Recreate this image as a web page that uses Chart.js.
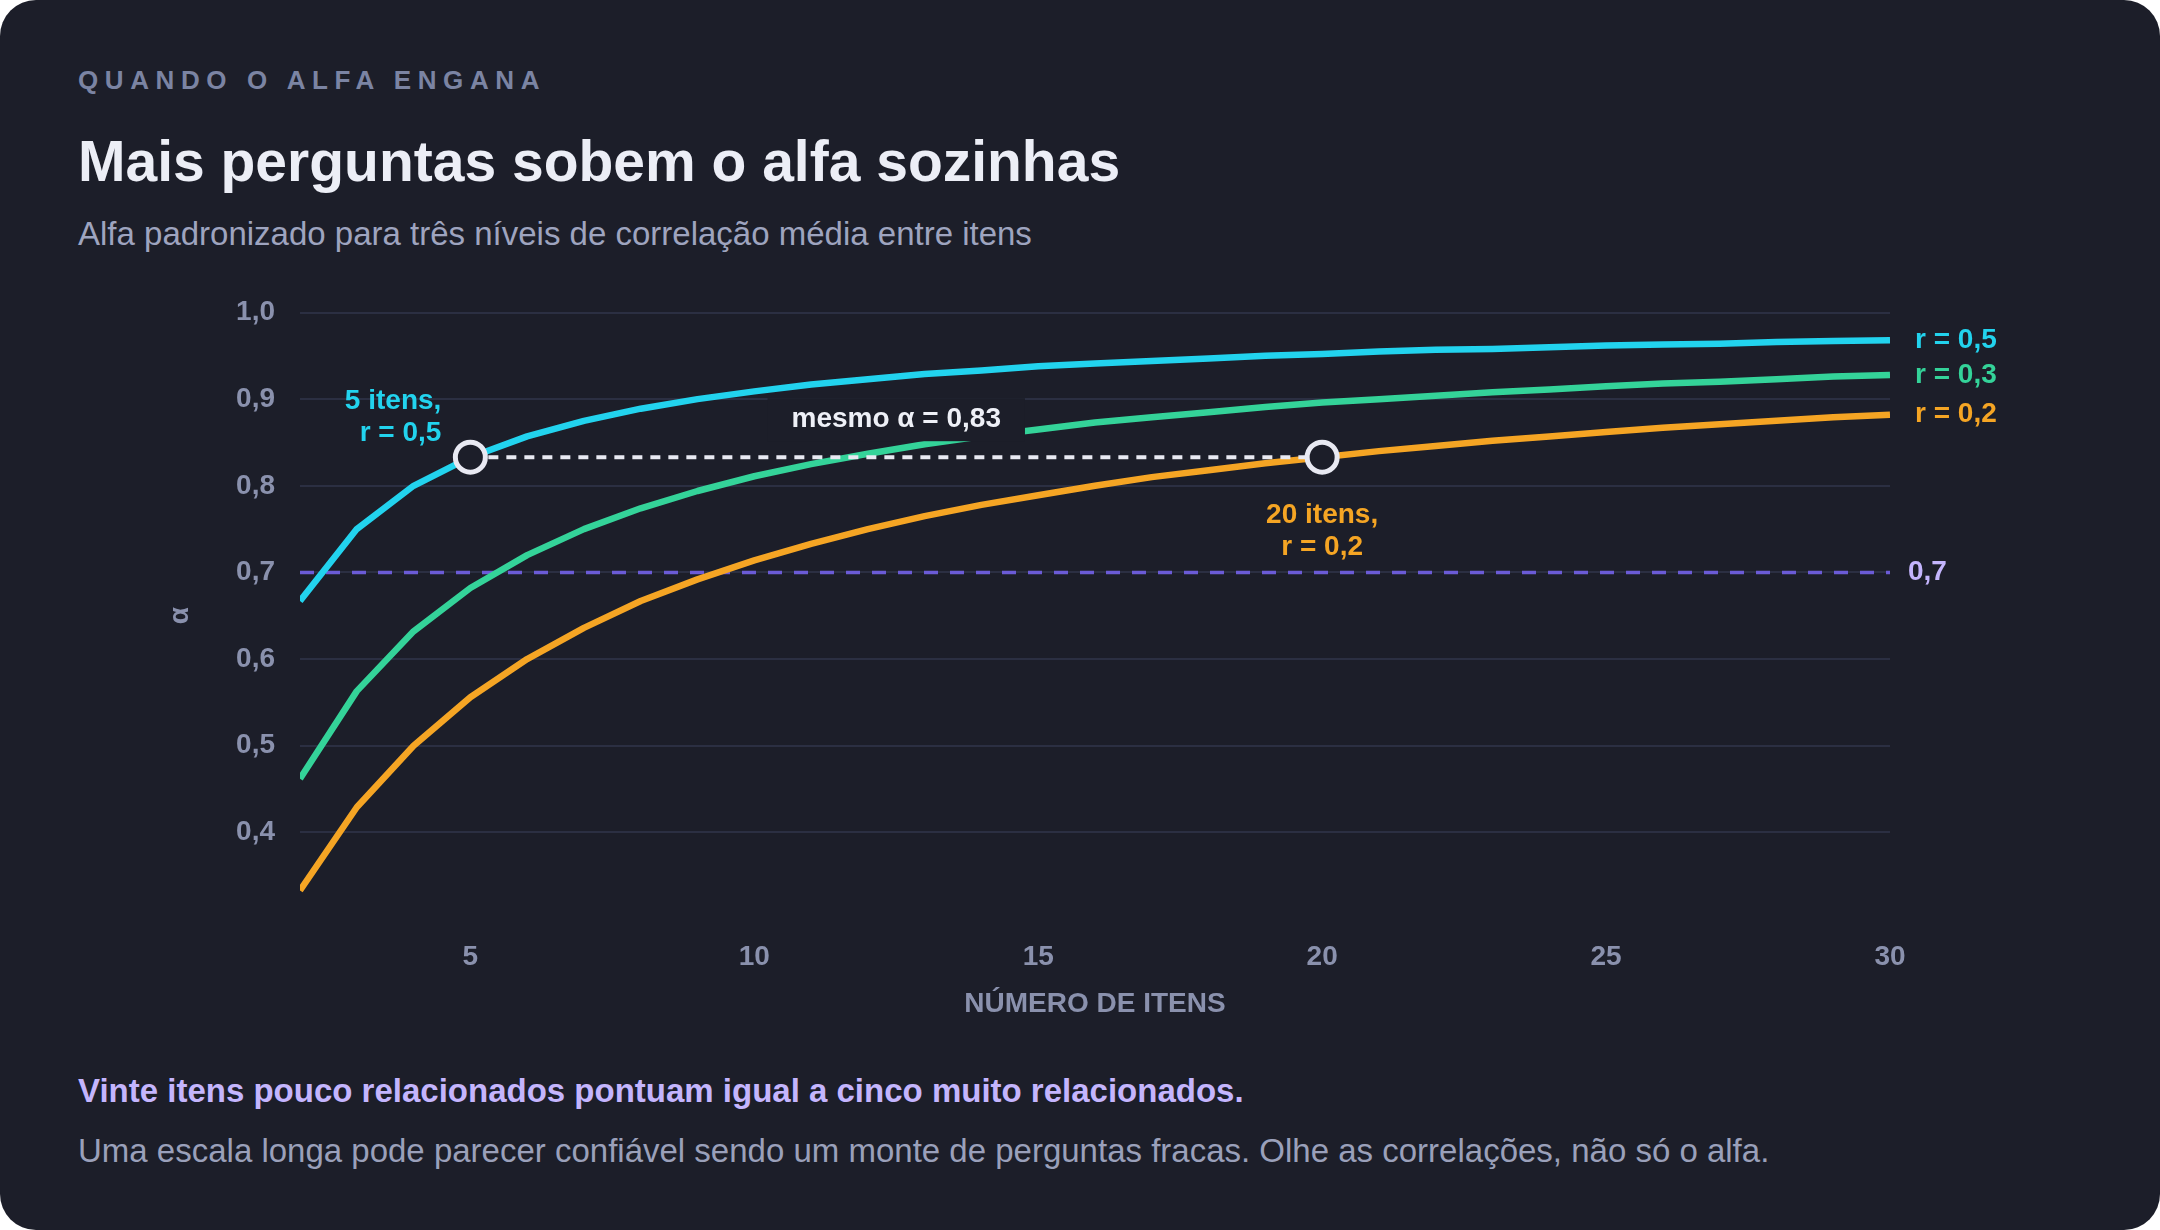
<!DOCTYPE html>
<html lang="pt-BR">
<head>
<meta charset="utf-8">
<title>Mais perguntas sobem o alfa sozinhas</title>
<script src="https://cdn.jsdelivr.net/npm/chart.js@4.4.1/dist/chart.umd.min.js"></script>
<style>
  html, body { margin: 0; padding: 0; background: #ffffff; }
  body { width: 2160px; height: 1230px; overflow: hidden; font-family: "Liberation Sans", Arial, sans-serif; }
  .card { position: absolute; left: 0; top: 0; width: 2160px; height: 1230px; background: #1c1e29; border-radius: 36px; overflow: hidden; }
  .t { position: absolute; left: 78px; white-space: nowrap; }
  .eyebrow { top: 60px; height: 40px; line-height: 40px; font-size: 26px; font-weight: 700; letter-spacing: 6.6px; color: #7b84a3; }
  .title { top: 126px; height: 70px; line-height: 70px; font-size: 57px; font-weight: 700; color: #eceef6; }
  .subtitle { top: 212px; height: 44px; line-height: 44px; font-size: 33px; font-weight: 400; color: #9ea4bf; }
  .foot1 { top: 1069px; height: 44px; line-height: 44px; font-size: 33px; font-weight: 700; color: #c4b5fd; }
  .foot2 { top: 1129px; height: 44px; line-height: 44px; font-size: 33px; font-weight: 400; color: #9aa0ba; }
  .chartbox { position: absolute; left: 0; top: 280px; width: 2160px; height: 760px; }
</style>
</head>
<body>
<div class="card">
  <div class="t eyebrow">QUANDO O ALFA ENGANA</div>
  <div class="t title">Mais perguntas sobem o alfa sozinhas</div>
  <div class="t subtitle">Alfa padronizado para três níveis de correlação média entre itens</div>
  <div class="chartbox"><canvas id="c"></canvas></div>
  <div class="t foot1">Vinte itens pouco relacionados pontuam igual a cinco muito relacionados.</div>
  <div class="t foot2">Uma escala longa pode parecer confiável sendo um monte de perguntas fracas. Olhe as correlações, não só o alfa.</div>
</div>
<script>
// ---- data ----
const itemCounts = [2,3,4,5,6,7,8,9,10,11,12,13,14,15,16,17,18,19,20,21,22,23,24,25,26,27,28,29,30];
const alphaR05 = [0.667,0.750,0.800,0.833,0.857,0.875,0.889,0.900,0.909,0.917,0.923,0.929,0.933,0.938,0.941,0.944,0.947,0.950,0.952,0.955,0.957,0.958,0.960,0.962,0.963,0.964,0.966,0.967,0.968];
const alphaR03 = [0.462,0.563,0.632,0.682,0.720,0.750,0.774,0.794,0.811,0.825,0.837,0.848,0.857,0.865,0.873,0.879,0.885,0.891,0.896,0.900,0.904,0.908,0.911,0.915,0.918,0.920,0.923,0.926,0.928];
const alphaR02 = [0.333,0.429,0.500,0.556,0.600,0.636,0.667,0.692,0.714,0.733,0.750,0.765,0.778,0.789,0.800,0.810,0.818,0.826,0.833,0.840,0.846,0.852,0.857,0.862,0.867,0.871,0.875,0.879,0.882];
const seriesNames = ['r = 0,5', 'r = 0,3', 'r = 0,2'];
const seriesColors = ['#22d3ee', '#34d399', '#f5a524'];
const xTicks = [5, 10, 15, 20, 25, 30];
const yTicks = [0.4, 0.5, 0.6, 0.7, 0.8, 0.9, 1.0];
const refAlpha = 0.7;
const refLabel = '0,7';
const sameAlpha = 0.833;
const sameLabel = 'mesmo α = 0,83';
const markA = [5, 0.833];
const markALabel = ['5 itens,', 'r = 0,5'];
const markB = [20, 0.833];
const markBLabel = ['20 itens,', 'r = 0,2'];
const xTitle = 'NÚMERO DE ITENS';
const yTitle = 'α';

// ---- build ----
const BG = '#1c1e29';
const FONT = '"Liberation Sans", Arial, sans-serif';
const PAGE_Y_TOP = 312.5;    // page y of alpha = 1.0
const PAGE_Y_BOTTOM = 919;   // page y of alpha = 0.3
let xAxisHeight = 121;

const allSeries = [alphaR05, alphaR03, alphaR02];
const datasets = allSeries.map((vals, i) => ({
  label: seriesNames[i],
  data: itemCounts.map((k, j) => ({ x: k, y: vals[j] })),
  borderColor: seriesColors[i],
  borderWidth: 6.5,
  pointRadius: 0,
  pointHoverRadius: 0,
  tension: 0,
  borderJoinStyle: 'round',
  fill: false
}));

const fmt = v => v.toFixed(1).replace('.', ',');

const annot = {
  id: 'annot',
  beforeDatasetsDraw(chart) {
    const { ctx, chartArea: a, scales: { x, y } } = chart;
    ctx.save();
    const yr = y.getPixelForValue(refAlpha);
    ctx.strokeStyle = '#6b5bd6';
    ctx.lineWidth = 3.5;
    ctx.setLineDash([14, 12]);
    ctx.beginPath(); ctx.moveTo(a.left, yr); ctx.lineTo(a.right, yr); ctx.stroke();
    ctx.restore();
  },
  afterDatasetsDraw(chart) {
    const { ctx, chartArea: a, scales: { x, y } } = chart;
    ctx.save();
    const ys = y.getPixelForValue(sameAlpha);
    const xa = x.getPixelForValue(markA[0]);
    const xb = x.getPixelForValue(markB[0]);
    ctx.strokeStyle = '#e8e9f2';
    ctx.lineWidth = 4;
    ctx.setLineDash([10, 8]);
    ctx.beginPath(); ctx.moveTo(xa, ys); ctx.lineTo(xb, ys); ctx.stroke();
    ctx.setLineDash([]);
    ctx.font = '700 28px ' + FONT;
    const xm = x.getPixelForValue((markA[0] + markB[0]) / 2);
    const tw = ctx.measureText(sameLabel).width;
    const ly = ys - 38;
    ctx.fillStyle = BG;
    ctx.fillRect(xm - tw / 2 - 24, ly - 21, tw + 48, 43);
    ctx.fillStyle = '#eef0f7';
    ctx.textAlign = 'center'; ctx.textBaseline = 'middle';
    ctx.fillText(sameLabel, xm, ly);
    [markA, markB].forEach(m => {
      const px = x.getPixelForValue(m[0]), py = y.getPixelForValue(m[1]);
      ctx.beginPath(); ctx.arc(px, py, 15, 0, Math.PI * 2);
      ctx.fillStyle = BG; ctx.fill();
      ctx.lineWidth = 5; ctx.strokeStyle = '#e8e9f2'; ctx.stroke();
    });
    const pa = [x.getPixelForValue(markA[0]), y.getPixelForValue(markA[1])];
    ctx.fillStyle = seriesColors[0];
    ctx.textAlign = 'right';
    ctx.fillText(markALabel[0], pa[0] - 29, pa[1] - 56);
    ctx.fillText(markALabel[1], pa[0] - 29, pa[1] - 24);
    const pb = [x.getPixelForValue(markB[0]), y.getPixelForValue(markB[1])];
    ctx.fillStyle = seriesColors[2];
    ctx.textAlign = 'center';
    ctx.fillText(markBLabel[0], pb[0], pb[1] + 58);
    ctx.fillText(markBLabel[1], pb[0], pb[1] + 90);
    ctx.textAlign = 'left';
    allSeries.forEach((vals, i) => {
      ctx.fillStyle = seriesColors[i];
      ctx.fillText(seriesNames[i], a.right + 25, y.getPixelForValue(vals[vals.length - 1]));
    });
    ctx.fillStyle = '#c4b5fd';
    ctx.fillText(refLabel, a.right + 18, y.getPixelForValue(refAlpha));
    ctx.restore();
  }
};

const chart = new Chart(document.getElementById('c'), {
  type: 'line',
  data: { datasets },
  plugins: [annot],
  options: {
    responsive: true,
    maintainAspectRatio: false,
    animation: false,
    events: [],
    layout: { padding: { left: 150, right: 270, top: 32.5, bottom: 0 } },
    plugins: { legend: { display: false }, tooltip: { enabled: false } },
    scales: {
      x: {
        type: 'linear', min: 2, max: 30,
        afterBuildTicks: s => { s.ticks = xTicks.map(v => ({ value: v })); },
        afterFit: s => { s.height = xAxisHeight; },
        grid: { display: false, drawTicks: false },
        border: { display: false },
        ticks: { padding: 21.5, color: '#8a91ad', font: { family: FONT, size: 28, weight: '700' }, callback: v => String(v) },
        title: { display: true, text: xTitle, color: '#8a91ad', font: { family: FONT, size: 28, weight: '700' }, padding: { top: 0, bottom: 18.5 } }
      },
      y: {
        type: 'linear', min: 0.3, max: 1.0,
        afterBuildTicks: s => { s.ticks = yTicks.map(v => ({ value: v })); },
        afterFit: s => { s.width = 150; s.paddingTop = 0; s.paddingBottom = 0; },
        grid: { color: '#2b2f42', lineWidth: 2, drawTicks: false },
        border: { display: false },
        ticks: { padding: 25, color: '#8a91ad', font: { family: FONT, size: 28, weight: '700' }, callback: v => fmt(v) },
        title: { display: true, text: yTitle, color: '#8a91ad', font: { family: FONT, size: 28, weight: '700' }, padding: { top: 13, bottom: 0 } }
      }
    }
  }
});

// settle the plot area at the reference position
for (let i = 0; i < 5; i++) {
  const rect = chart.canvas.getBoundingClientRect();
  const sc = rect.height / chart.height;
  const y = chart.scales.y;
  const p1 = rect.top + y.getPixelForValue(1.0) * sc;
  const p0 = rect.top + y.getPixelForValue(0.3) * sc;
  const dt = p1 - PAGE_Y_TOP, db = p0 - PAGE_Y_BOTTOM;
  if (Math.abs(dt) < 0.25 && Math.abs(db) < 0.25) break;
  chart.options.layout.padding.top -= dt / sc;
  xAxisHeight += db / sc;
  chart.update();
}
</script>
</body>
</html>
